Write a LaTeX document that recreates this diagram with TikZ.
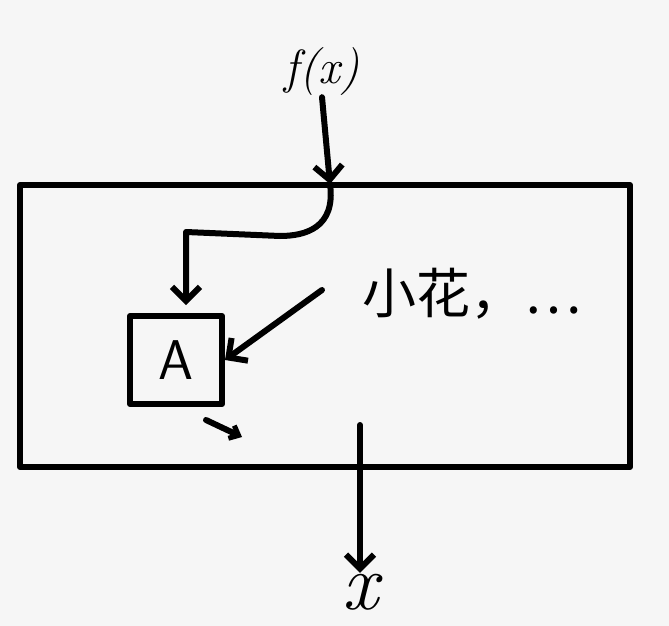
\documentclass[tikz,border=0pt]{standalone}
\usepackage{fontspec}
\newfontfamily\cjk{Noto Sans CJK SC}
\usetikzlibrary{arrows.meta}
\begin{document}
\begin{tikzpicture}[x=1pt,y=-1pt,
  ink/.style={line width=6pt, line cap=round, line join=round, black},
  flow/.style={ink, -{Straight Barb[length=14pt,width=28pt,line width=6pt]}},
  frame/.style={ink, draw, minimum width=610pt, minimum height=282pt, inner sep=0pt},
  blockbox/.style={ink, draw, minimum width=92pt, minimum height=88pt, inner sep=0pt},
  hand/.style={inner sep=1pt}]
\useasboundingbox (0,0) rectangle (669,626);
\fill[white!93!gray] (0,0) rectangle (669,626);

% outer frame
\node[frame] (loop) at (325,326) {};

% inner block
\node[blockbox, font=\fontsize{56}{60}\selectfont\sffamily] (A) at (176,360) {A};

% texts
\node[hand, font=\fontsize{48}{54}\selectfont\itshape] (fx) at (322,72) {f(x)};
\node[hand, font=\fontsize{80}{86}\selectfont\itshape] (x) at (360,592) {x};
\node[hand, font=\fontsize{54}{60}\selectfont\cjk] (note) at (472,294) {小花，…};

% helper points on the connectors
\coordinate (entry) at (330,184);
\coordinate (push) at (322,290);
\coordinate (leak) at (206,420);
\coordinate (leakend) at (242,437);
\coordinate (exit) at (360,425);

% input flowing into the loop and down into the block
\draw[flow] (fx.south) -- (entry);
\draw[flow] (entry) .. controls (336,228) and (305,236) .. (280,236)
  -- (186,232) -- (186,305);
\draw[flow] (push) -- (A.east);
\draw[ink, -{Straight Barb[length=8pt,width=14pt,line width=5pt]}] (leak) -- (leakend);

% result leaving the loop
\draw[flow] (exit) -- (x.north);
\end{tikzpicture}
\end{document}
